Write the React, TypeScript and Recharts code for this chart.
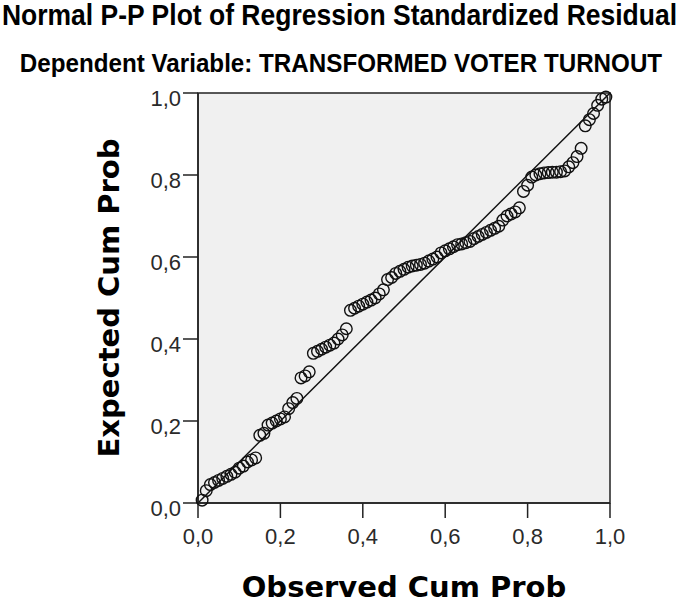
import { ScatterChart, Scatter, XAxis, YAxis, CartesianGrid, ReferenceLine, ReferenceArea, Label } from 'recharts';

// observed cumulative probability (x) and expected cumulative probability (y)
const observed = [
    0.01, 0.02, 0.03, 0.04, 0.05, 0.06, 0.07, 0.08, 0.09, 0.10,
    0.11, 0.12, 0.13, 0.14, 0.15, 0.16, 0.17, 0.18, 0.19, 0.20,
    0.21, 0.22, 0.23, 0.24, 0.25, 0.26, 0.27, 0.28, 0.29, 0.30,
    0.31, 0.32, 0.33, 0.34, 0.35, 0.36, 0.37, 0.38, 0.39, 0.40,
    0.41, 0.42, 0.43, 0.44, 0.45, 0.46, 0.47, 0.48, 0.49, 0.50,
    0.51, 0.52, 0.53, 0.54, 0.55, 0.56, 0.57, 0.58, 0.59, 0.60,
    0.61, 0.62, 0.63, 0.64, 0.65, 0.66, 0.67, 0.68, 0.69, 0.70,
    0.71, 0.72, 0.73, 0.74, 0.75, 0.76, 0.77, 0.78, 0.79, 0.80,
    0.81, 0.82, 0.83, 0.84, 0.85, 0.86, 0.87, 0.88, 0.89, 0.90,
    0.91, 0.92, 0.93, 0.94, 0.95, 0.96, 0.97, 0.98, 0.99
];

const expected = [
    0.007, 0.03, 0.045, 0.05, 0.055, 0.06, 0.065, 0.07, 0.075, 0.085,
    0.09, 0.10, 0.105, 0.11, 0.165, 0.17, 0.19, 0.195, 0.20, 0.205,
    0.21, 0.23, 0.245, 0.255, 0.305, 0.31, 0.32, 0.365, 0.37, 0.375,
    0.38, 0.385, 0.39, 0.40, 0.41, 0.425, 0.47, 0.475, 0.48, 0.485,
    0.49, 0.495, 0.50, 0.51, 0.52, 0.545, 0.55, 0.56, 0.565, 0.57,
    0.575, 0.578, 0.58, 0.582, 0.585, 0.59, 0.595, 0.60, 0.61, 0.615,
    0.62, 0.625, 0.63, 0.632, 0.635, 0.638, 0.645, 0.65, 0.655, 0.66,
    0.665, 0.67, 0.675, 0.69, 0.70, 0.705, 0.71, 0.72, 0.76, 0.775,
    0.795, 0.80, 0.803, 0.805, 0.806, 0.807, 0.807, 0.808, 0.81, 0.82,
    0.83, 0.845, 0.865, 0.92, 0.935, 0.95, 0.97, 0.985, 0.99
];

const axisTicks = [0, 0.2, 0.4, 0.6, 0.8, 1];

const title = 'Normal P-P Plot of Regression Standardized Residual';
const subtitle = 'Dependent Variable: TRANSFORMED VOTER TURNOUT';
const xTitle = 'Observed Cum Prob';
const yTitle = 'Expected Cum Prob';

const points = observed.map((x, i) => ({ x, y: expected[i] }));

const fmt = (v: number) => v.toFixed(1).replace('.', ',');

const Ring = (props: any) => (
    <circle cx={props.cx} cy={props.cy} r={5.8} fill="none" stroke="#111" strokeWidth={1.4} />
);

const tickStyle = { fontFamily: "'Liberation Sans', Arial, sans-serif", fontSize: 22, fill: '#2a2a2a' };
const axisTitleStyle = { fontFamily: "'DejaVu Sans', Verdana, sans-serif", fontSize: 29, fontWeight: 'bold', fill: '#000' };
const headFont = "'Liberation Sans', Arial, sans-serif";

const App = () => {
    return (
        <div style={{ position: 'absolute', left: 0, top: 0, width: 681, height: 605, background: '#fff' }}>
            <svg width={681} height={90} style={{ position: 'absolute', left: 0, top: 0 }}>
                {/* narrow bold heads: smaller face stretched vertically */}
                <g transform="translate(339.5, 25) scale(1, 1.1)">
                    <text x={0} y={0} textAnchor="middle" style={{ fontFamily: headFont, fontSize: 26.5, fontWeight: 'bold' }}>
                        {title}
                    </text>
                </g>
                <g transform="translate(341, 72) scale(1, 1.1)">
                    <text x={0} y={0} textAnchor="middle" style={{ fontFamily: headFont, fontSize: 24.2, fontWeight: 'bold' }}>
                        {subtitle}
                    </text>
                </g>
            </svg>
            <ScatterChart width={681} height={605} margin={{ top: 93, right: 71, bottom: 5, left: 19 }}>
                <CartesianGrid horizontal={false} vertical={false} fill="#f0f0f0" />
                <XAxis
                    type="number"
                    dataKey="x"
                    domain={[0, 1]}
                    ticks={axisTicks}
                    tickFormatter={fmt}
                    height={97}
                    tickSize={15}
                    tickMargin={10}
                    axisLine={{ stroke: '#222', strokeWidth: 1.5 }}
                    tickLine={{ stroke: '#222', strokeWidth: 1.5 }}
                    tick={tickStyle}
                >
                    <Label value={xTitle} position="insideBottom" offset={3} style={axisTitleStyle} />
                </XAxis>
                <YAxis
                    type="number"
                    dataKey="y"
                    domain={[0, 1]}
                    ticks={axisTicks}
                    tickFormatter={fmt}
                    width={179}
                    tickSize={15}
                    tickMargin={2}
                    axisLine={{ stroke: '#222', strokeWidth: 1.5 }}
                    tickLine={{ stroke: '#222', strokeWidth: 1.5 }}
                    tick={{ ...tickStyle, dy: 5 }}
                >
                    <Label value={yTitle} position="center" angle={-90} style={axisTitleStyle} />
                </YAxis>
                <ReferenceArea x1={0} x2={1} y1={0} y2={1} fill="none" stroke="#222" strokeWidth={1.5} fillOpacity={0} />
                <ReferenceLine segment={[{ x: 0, y: 0 }, { x: 1, y: 1 }]} stroke="#111" strokeWidth={1.5} />
                <Scatter data={points} shape={Ring} isAnimationActive={false} />
            </ScatterChart>
        </div>
    );
};

export default App;
